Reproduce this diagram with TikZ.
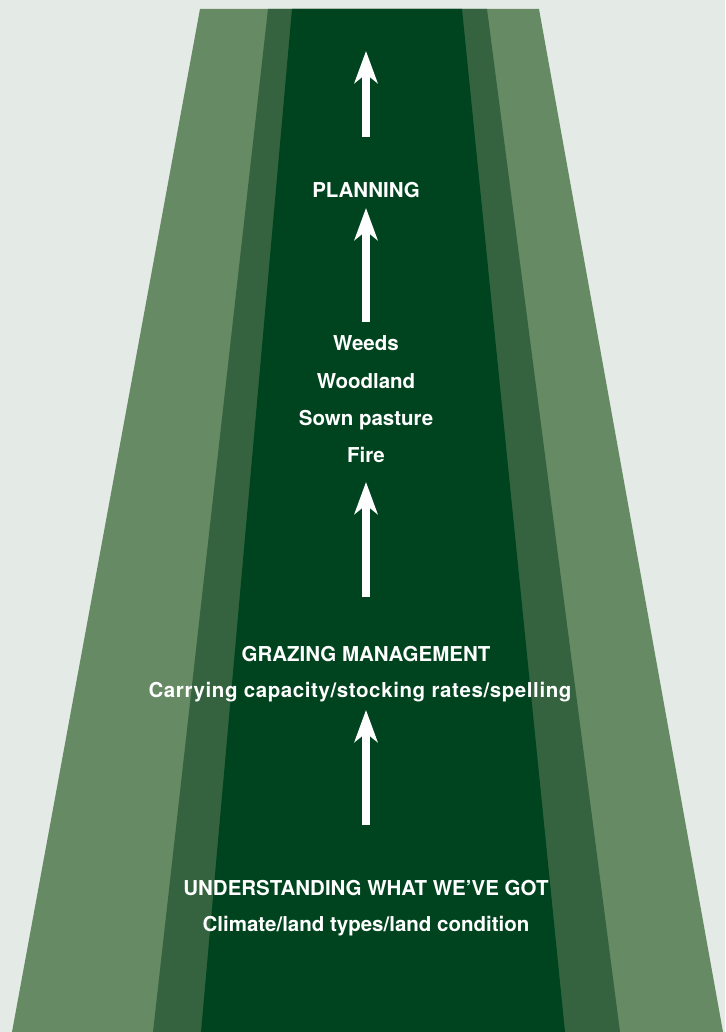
\documentclass[tikz,border=0pt]{standalone}
\usepackage{fontspec}
\setmainfont{TeX Gyre Heros}
\usetikzlibrary{arrows.meta}
\definecolor{paperbg}{HTML}{E4EAE5}
\definecolor{verge}{HTML}{658A64}
\definecolor{shoulder}{HTML}{35633F}
\definecolor{roadbed}{HTML}{00441F}
\tikzset{
	flow arrow style/.style={
		white,
		line width=8pt,
		-{Stealth[length=32pt, width=23pt, inset=9pt]}
	},
	stage text style/.style={
		text=white,
		anchor=base,
		inner sep=0pt,
		font=\fontsize{20.5}{24}\selectfont\bfseries
	}
}

\begin{document}
\begin{tikzpicture}[x=1pt, y=-1pt]
		
		% --- 1. Page Background ---
		\fill[paperbg] (0,0) rectangle (725,1032);
		\useasboundingbox (0,0) rectangle (725,1032);
		
		% --- 2. The Road, Outer Band to Centre ---
		% Three nested trapezoids give the perspective look
		\fill[verge] (200,9) -- (539,9) -- (723,1032) -- (12,1032) -- cycle;
		\fill[shoulder] (268,9) -- (487,9) -- (620,1032) -- (153,1032) -- cycle;
		\fill[roadbed] (292,9) -- (462,9) -- (565,1032) -- (201,1032) -- cycle;
		
		
		% --- 3. Stage Labels (bottom to top) ---
		\node[stage text style] (understanding) at (366,895) {UNDERSTANDING WHAT WE’VE GOT};
		\node[stage text style] (climate) at (366,931) {Climate/land types/land condition};
		
		\node[stage text style] (grazing) at (366,661) {GRAZING MANAGEMENT};
		% this line is set a little looser in the original
		\node[stage text style] (carrying) at (360,697) {\addfontfeatures{LetterSpace=2.9}Carrying capacity/stocking rates/spelling};
		
		\node[stage text style] (weeds) at (366,350) {Weeds};
		\node[stage text style] (woodland) at (366,388) {Woodland};
		\node[stage text style] (sown) at (366,425) {Sown pasture};
		\node[stage text style] (fire) at (366,462) {Fire};
		
		\node[stage text style] (planning) at (366,198) {PLANNING};
		
		
		% --- 4. Arrows Between the Stages ---
		\coordinate (arrow four tail) at (366,825);
		\coordinate (arrow four tip) at (366,710);
		\coordinate (arrow three tail) at (366,597);
		\coordinate (arrow three tip) at (366,482);
		\coordinate (arrow two tail) at (366,322);
		\coordinate (arrow two tip) at (366,208);
		\coordinate (arrow one tail) at (366,137);
		\coordinate (arrow one tip) at (366,51);
		
		\foreach \step in {one, two, three, four} {
			\draw[flow arrow style] (arrow \step\space tail) -- (arrow \step\space tip);
		}
		
	\end{tikzpicture}
\end{document}
